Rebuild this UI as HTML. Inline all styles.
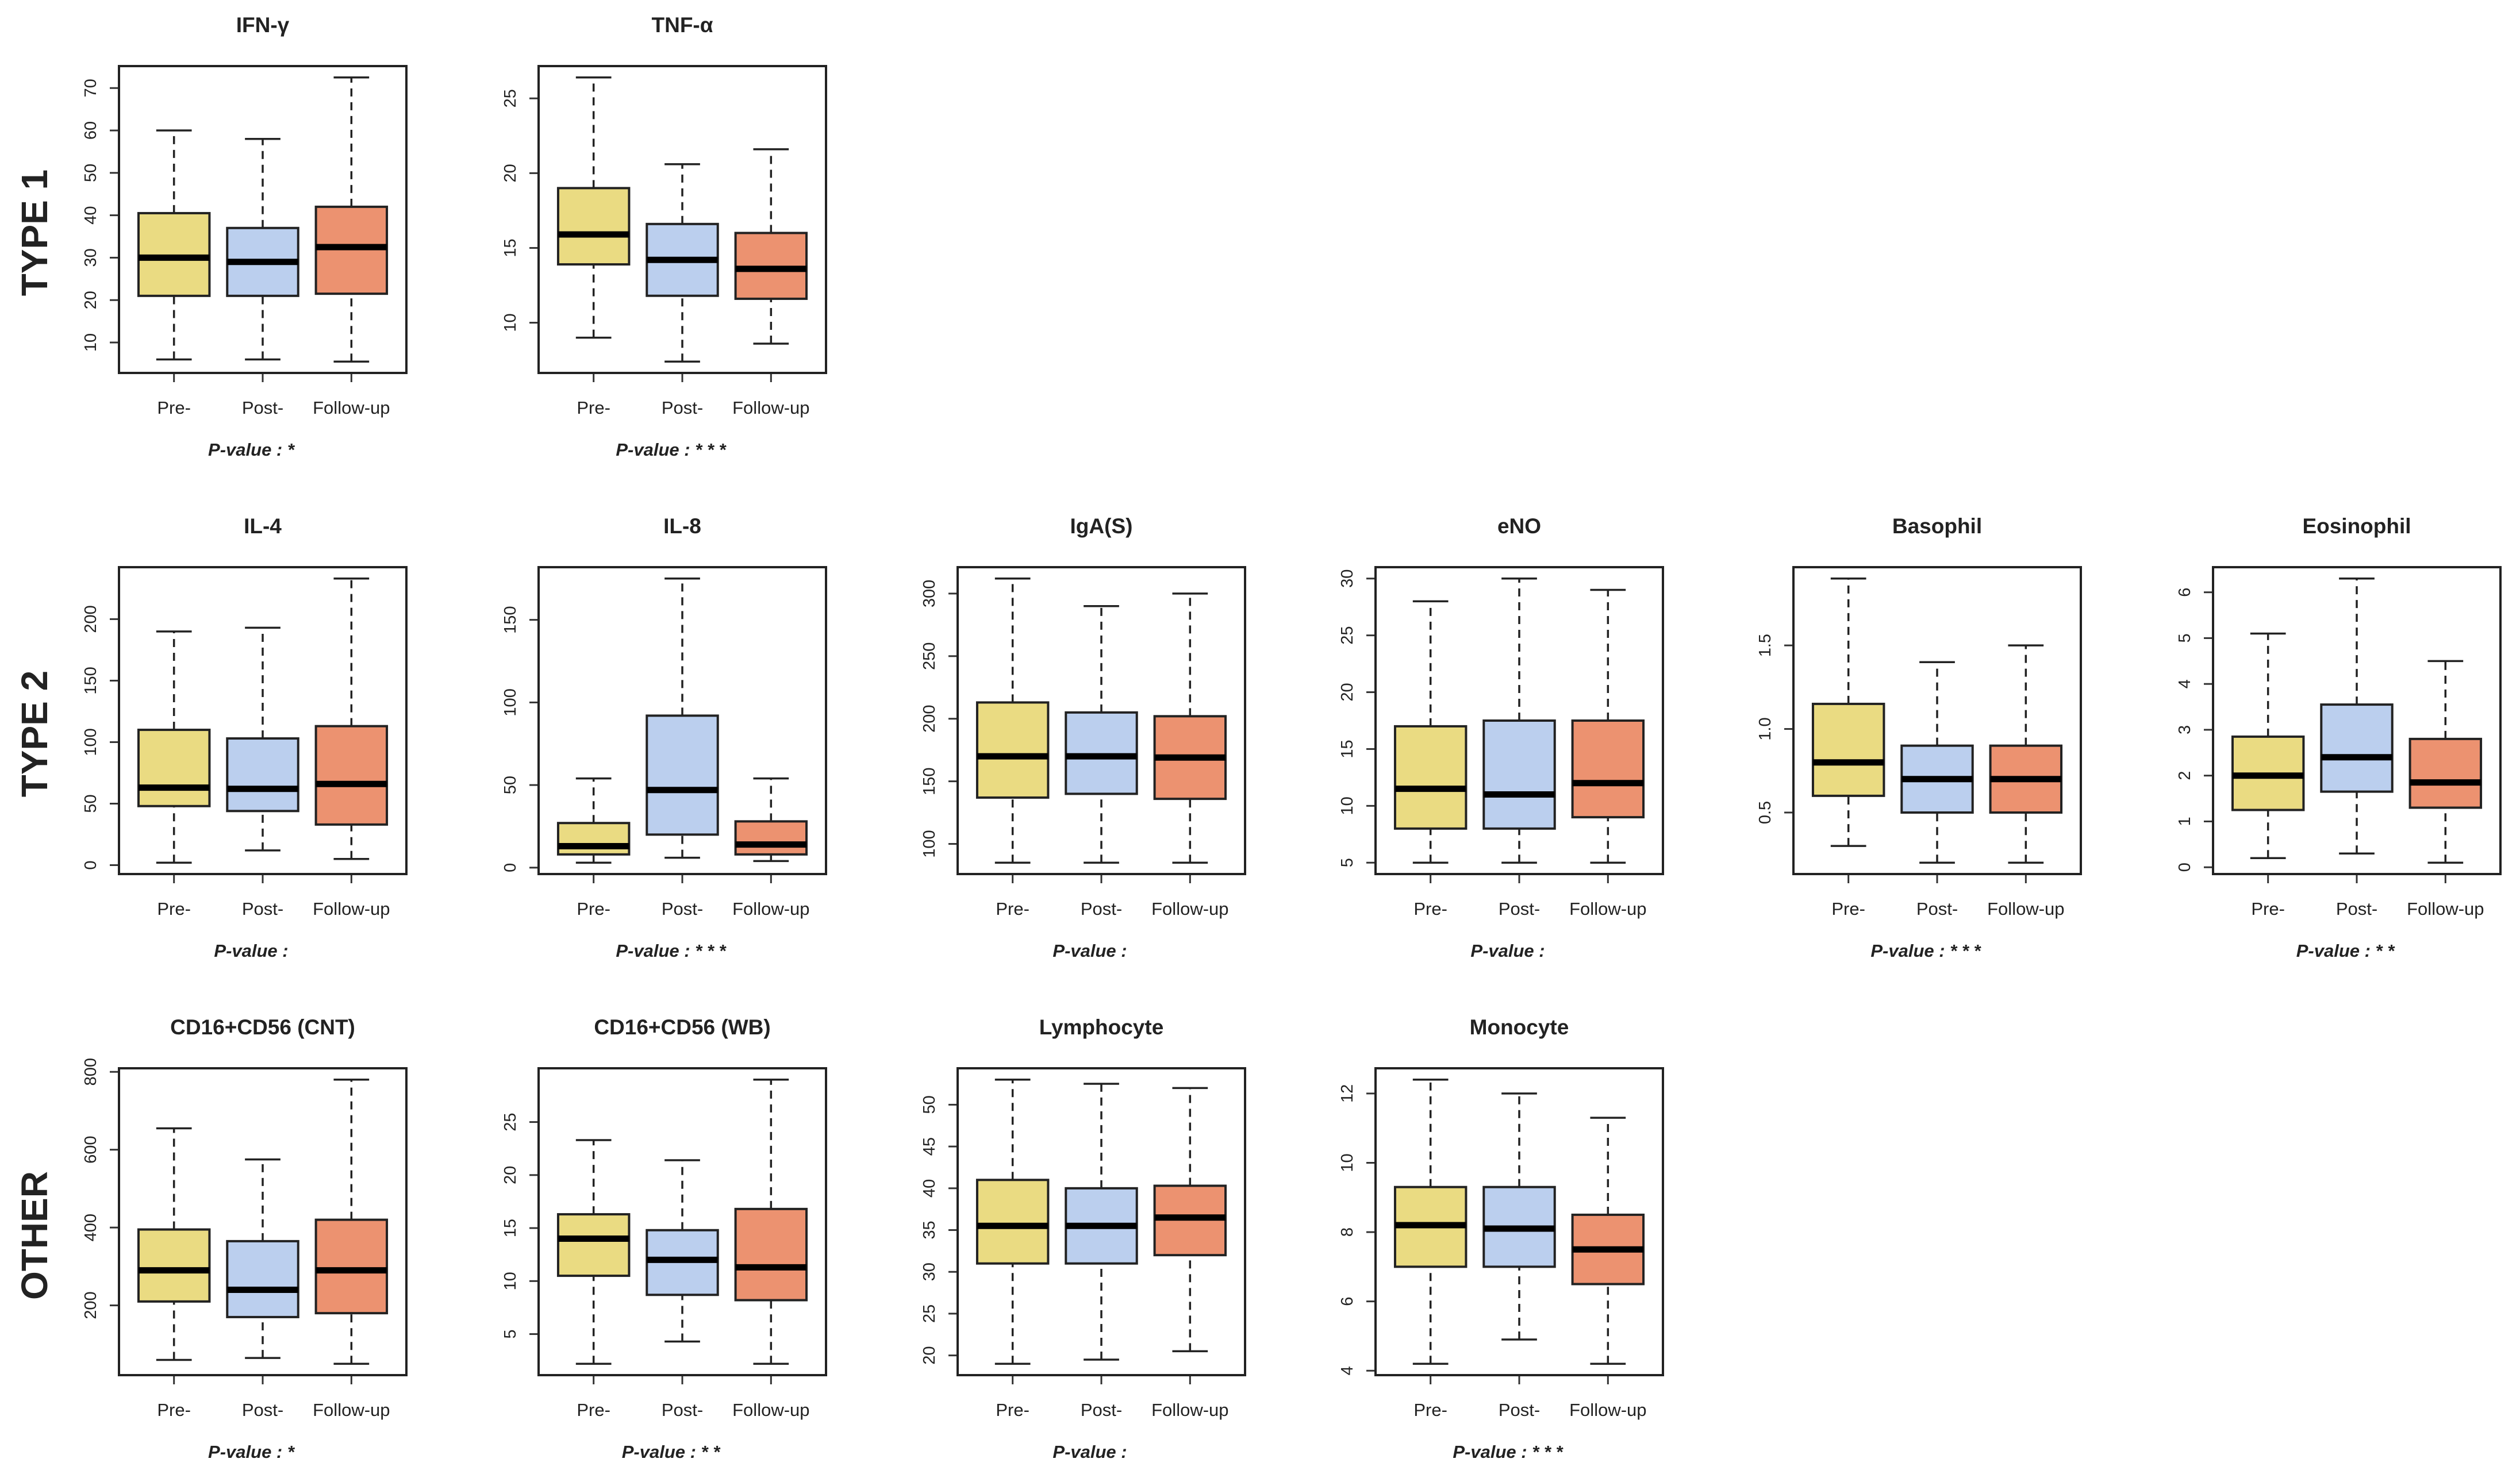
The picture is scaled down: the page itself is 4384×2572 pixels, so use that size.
<!DOCTYPE html>
<html><head><meta charset="utf-8">
<style>
html,body{margin:0;padding:0;background:#fff;}
svg{display:block;}
text{font-family:"Liberation Sans Narrow","Liberation Sans",sans-serif;fill:#222;}
</style></head>
<body>
<svg id="chart" width="4384" height="2572" viewBox="0 0 4384 2572" xmlns="http://www.w3.org/2000/svg">
<text transform="translate(82,405) rotate(-90)" text-anchor="middle" font-size="64" font-weight="bold" style="font-family:'Liberation Sans',sans-serif">TYPE 1</text>
<text transform="translate(82,1277) rotate(-90)" text-anchor="middle" font-size="64" font-weight="bold" style="font-family:'Liberation Sans',sans-serif">TYPE 2</text>
<text transform="translate(82,2150) rotate(-90)" text-anchor="middle" font-size="64" font-weight="bold" style="font-family:'Liberation Sans',sans-serif">OTHER</text>
</svg>
<script>
const categories = ["Pre-", "Post-", "Follow-up"];
const colors = ["#EADB82", "#BBCFEE", "#EC9270"];
const titles = ["IFN-γ","TNF-α","IL-4","IL-8","IgA(S)","eNO","Basophil","Eosinophil","CD16+CD56 (CNT)","CD16+CD56 (WB)","Lymphocyte","Monocyte"];
const pvalues = ["P-value : *","P-value : * * *","P-value :","P-value : * * *","P-value :","P-value :","P-value : * * *","P-value : * *","P-value : *","P-value : * *","P-value :","P-value : * * *"];
const panelRow = [0,0,1,1,1,1,1,1,2,2,2,2];
const panelCol = [0,1,0,1,2,3,4,5,0,1,2,3];
// each: [min, q1, median, q3, max] for Pre, Post, Follow-up
const stats = [
 [[6,21,30,40.5,60],[6,21,29,37,58],[5.5,21.5,32.5,42,72.5]],
 [[9,13.9,15.9,19,26.4],[7.4,11.8,14.2,16.6,20.6],[8.6,11.6,13.6,16,21.6]],
 [[2,48,63,110,190],[12,44,62,103,193],[5,33,66,113,233]],
 [[3,8,13,27,54],[6,20,47,92,175],[4,8,14,28,54]],
 [[85,137,170,213,312],[85,140,170,205,290],[85,136,169,202,300]],
 [[5,8,11.5,17,28],[5,8,11,17.5,30],[5,9,12,17.5,29]],
 [[0.3,0.6,0.8,1.15,1.9],[0.2,0.5,0.7,0.9,1.4],[0.2,0.5,0.7,0.9,1.5]],
 [[0.2,1.25,2.0,2.85,5.1],[0.3,1.65,2.4,3.55,6.3],[0.1,1.3,1.85,2.8,4.5]],
 [[60,210,290,395,655],[65,170,240,365,575],[50,180,290,420,780]],
 [[2.2,10.5,14,16.3,23.3],[4.3,8.7,12,14.8,21.4],[2.2,8.2,11.3,16.8,29]],
 [[19,31,35.5,41,53],[19.5,31,35.5,40,52.5],[20.5,32,36.5,40.3,52]],
 [[4.2,7,8.2,9.3,12.4],[4.9,7,8.1,9.3,12],[4.2,6.5,7.5,8.5,11.3]]
];
const ticks = [
 [10,20,30,40,50,60,70],[10,15,20,25],[0,50,100,150,200],[0,50,100,150],
 [100,150,200,250,300],[5,10,15,20,25,30],[0.5,1.0,1.5],[0,1,2,3,4,5,6],
 [200,400,600,800],[5,10,15,20,25],[20,25,30,35,40,45,50],[4,6,8,10,12]
];
const tickLabels = [
 ["10","20","30","40","50","60","70"],["10","15","20","25"],["0","50","100","150","200"],["0","50","100","150"],
 ["100","150","200","250","300"],["5","10","15","20","25","30"],["0.5","1.0","1.5"],["0","1","2","3","4","5","6"],
 ["200","400","600","800"],["5","10","15","20","25"],["20","25","30","35","40","45","50"],["4","6","8","10","12"]
];
const svg = document.getElementById('chart');
const NS = 'http://www.w3.org/2000/svg';
const colX = [207,937,1666,2393,3120,3850];
const rowY = [115,987,1859];
const W = 500, H = 534;
function mk(tag, attrs, parent){
  const e = document.createElementNS(NS, tag);
  for (const k in attrs) e.setAttribute(k, attrs[k]);
  parent.appendChild(e); return e;
}
for (let p = 0; p < titles.length; p++){
  const x0 = colX[panelCol[p]], y0 = rowY[panelRow[p]];
  const g = mk('g', {}, svg);
  
  
  let lo = Infinity, hi = -Infinity;
  stats[p].forEach(s => { lo = Math.min(lo, s[0]); hi = Math.max(hi, s[4]); });
  const pad = (hi - lo) * 0.04; const ymin = lo - pad, ymax = hi + pad;
  const yS = v => y0 + H - (v - ymin) / (ymax - ymin) * H;
  const xS = i => x0 + (i + 1 - 0.38) / 3.24 * W;
  const unit = W / 3.24;
  const t = mk('text', {x: x0 + W/2, y: 56, 'text-anchor':'middle', 'font-size':37, 'font-weight':'bold'}, g);
  t.setAttribute('y', y0 - 59);
  t.textContent = titles[p];
  
  
  ticks[p].forEach((v, k) => {
    const yy = yS(v);
    const tl = mk('line', {x1: x0 - 16, x2: x0, y1: yy, y2: yy, stroke:'#333', 'stroke-width':3}, g);
    
    
    const tx = mk('text', {transform:`translate(${x0 - 40},${yy}) rotate(-90)`, 'text-anchor':'middle', 'font-size':29}, g);
    tx.textContent = tickLabels[p][k];
    
    
  });
  categories.forEach((c, i) => {
    const s = stats[p][i]; const cx = xS(i);
    const bw = unit * 0.8 / 2, cw = unit * 0.4 / 2;
    const w1 = mk('line', {x1:cx, x2:cx, y1:yS(s[3]), y2:yS(s[4]), stroke:'#222', 'stroke-width':3.5, 'stroke-dasharray':'14 10'}, g);
    
    
    const w2 = mk('line', {x1:cx, x2:cx, y1:yS(s[0]), y2:yS(s[1]), stroke:'#222', 'stroke-width':3.5, 'stroke-dasharray':'14 10'}, g);
    
    
    const c1 = mk('line', {x1:cx-cw, x2:cx+cw, y1:yS(s[4]), y2:yS(s[4]), stroke:'#222', 'stroke-width':3.5}, g);
    
    
    const c2 = mk('line', {x1:cx-cw, x2:cx+cw, y1:yS(s[0]), y2:yS(s[0]), stroke:'#222', 'stroke-width':3.5}, g);
    
    
    const r = mk('rect', {x:cx-bw, y:yS(s[3]), width:2*bw, height:yS(s[1])-yS(s[3]), fill:colors[i], stroke:'#222', 'stroke-width':4}, g);
    
    
    const m = mk('line', {x1:cx-bw, x2:cx+bw, y1:yS(s[2]), y2:yS(s[2]), stroke:'#000', 'stroke-width':11}, g);
    
    
    const xt = mk('line', {x1:cx, x2:cx, y1:y0+H, y2:y0+H+16, stroke:'#333', 'stroke-width':3}, g);
    
    
    const xl = mk('text', {x:cx, y:y0+H+71, 'text-anchor':'middle', 'font-size':31}, g);
    xl.textContent = c;
    
    
  });
  const fr = mk('rect', {x:x0, y:y0, width:W, height:H, fill:'none', stroke:'#222', 'stroke-width':4}, g);
  
  
  const pv = mk('text', {x: x0 + W/2 - 20, y: y0+H+144, 'text-anchor':'middle', 'font-size':31, 'font-weight':'bold', 'font-style':'italic'}, g);
  pv.textContent = pvalues[p];
  
  
}
</script>
</body></html>
